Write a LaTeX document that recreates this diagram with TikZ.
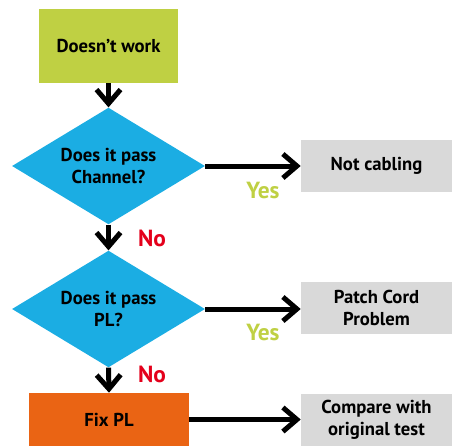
\documentclass[tikz,border=0pt]{standalone}
\usepackage{fontspec}
\setmainfont{PT Sans}
\usetikzlibrary{shapes.geometric,arrows.meta}
\definecolor{limegreen}{RGB}{191,208,67}
\definecolor{skyblue}{RGB}{27,173,227}
\definecolor{fixorange}{RGB}{234,100,20}
\definecolor{boxgray}{RGB}{217,217,217}
\definecolor{noRed}{RGB}{228,0,27}
\tikzset{
  base/.style={inner sep=0pt, align=center, font=\fontsize{14}{16.5}\selectfont\bfseries},
  greenbox/.style={base, rectangle, fill=limegreen, minimum width=104.25pt, minimum height=55.5pt},
  decision/.style={base, diamond, fill=skyblue, aspect=1.66, minimum width=144.75pt, minimum height=87.5pt},
  orangebox/.style={base, rectangle, fill=fixorange, minimum width=120pt, minimum height=39.75pt},
  graybox/.style={base, rectangle, fill=boxgray, minimum width=113.25pt, minimum height=39pt},
  flow/.style={line width=3.75pt, -{Straight Barb[length=10.5pt, width=18pt, line width=3.75pt]}},
  yeslabel/.style={font=\fontsize{17.5}{17.5}\selectfont\bfseries, text=limegreen, inner sep=0pt},
  nolabel/.style={font=\fontsize{17.5}{17.5}\selectfont\bfseries, text=noRed, inner sep=0pt}
}
\begin{document}
\begin{tikzpicture}[x=0.75pt,y=-0.75pt]
\useasboundingbox (0,0) rectangle (452,446);
\node[greenbox] (start) at (108.5,46) {Doesn’t work};
\node[decision] (d1) at (108.5,166) {Does it pass\\Channel?};
\node[decision] (d2) at (108.5,309) {Does it pass\\PL?};
\node[orangebox] (fix) at (109,419.5) {Fix PL};
\node[graybox] (nc) at (376.5,166) {Not cabling};
\node[graybox] (pc) at (376.5,308) {Patch Cord\\Problem};
\node[graybox] (cmp) at (376.5,420) {Compare with\\original test};
\node[yeslabel] (y1) at (263,190) {Yes};
\node[yeslabel] (y2) at (263,332) {Yes};
\node[nolabel] (n1) at (152,238) {No};
\node[nolabel] (n2) at (152,374) {No};
\draw[flow] (start.south) -- (d1.north);
\draw[flow] (d1.south) -- (d2.north);
\draw[flow] (d2.south) -- (fix.north);
\draw[flow] (d1.east) -- (nc.west);
\draw[flow] (d2.east) -- (d2.east -| pc.west);
\draw[flow] (fix.east) -- (fix.east -| cmp.west);
\end{tikzpicture}
\end{document}
